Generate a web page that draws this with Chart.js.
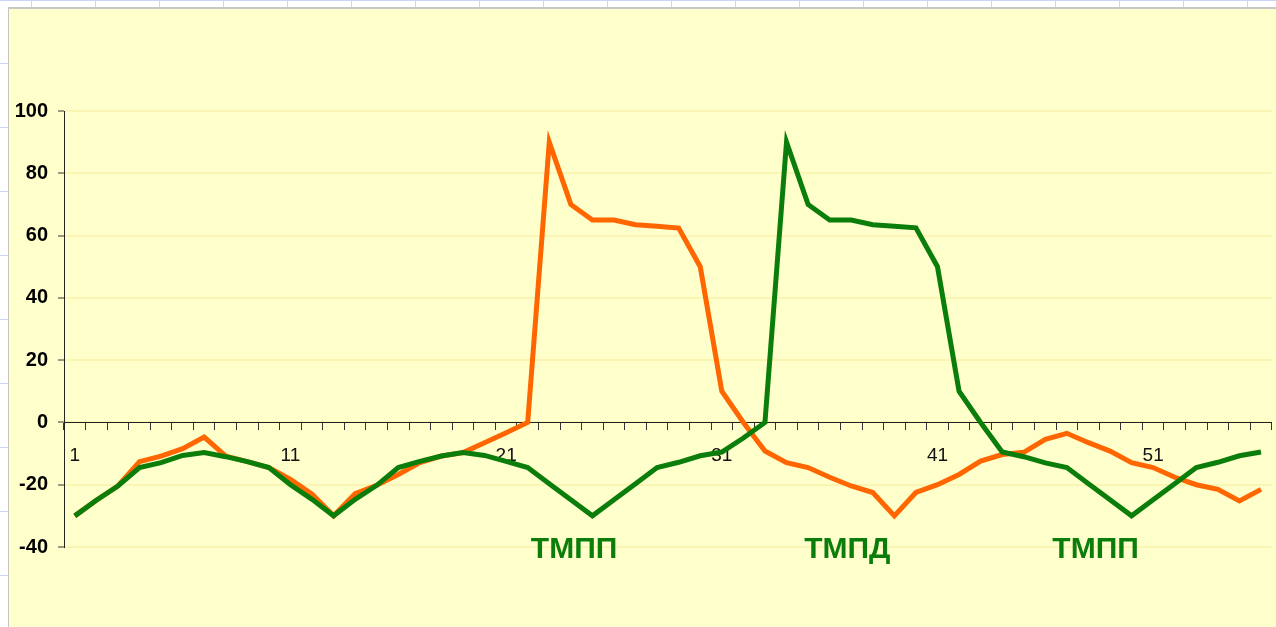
<!DOCTYPE html>
<html><head><meta charset="utf-8">
<script src="https://cdn.jsdelivr.net/npm/chart.js@4/dist/chart.umd.min.js"></script>
<style>
html,body{margin:0;padding:0;width:1276px;height:627px;overflow:hidden;}
body{background-color:#fff;
 background-image:linear-gradient(to right,#cad7fa 1px,transparent 1px),linear-gradient(to bottom,#cad7fa 1px,transparent 1px);
 background-size:64px 64px;background-position:31px 63px;}
#top{position:absolute;left:0;top:0;width:1276px;height:1px;background:#cad7fa;}
#wrap{position:absolute;left:8px;top:7px;width:1268px;height:620px;background:#FFFFCC;border-left:1px solid #c4c4c4;border-top:2px solid #c8c8c8;}
canvas{display:block;}
</style></head>
<body>
<div id="top"></div>
<div id="wrap"><canvas id="c" width="1267" height="618"></canvas></div>
<script>
const categories = Array.from({length:56},(_, i)=>String(i+1));
const shownTickLabels = ['1','11','21','31','41','51'];
const orangeValues = [-30,-25,-20.4,-12.6,-10.8,-8.4,-4.7,-10.8,-12.6,-14.5,
  -18.3,-23,-30,-22.9,-20.2,-16.7,-12.9,-10.8,-9.7,-6.5,
  -3.3,0,90,70,65,65,63.5,63,62.4,50,
  10,0,-9.2,-12.9,-14.5,-17.6,-20.4,-22.5,-30,-22.5,
  -20,-16.7,-12.4,-10.3,-9.6,-5.4,-3.5,-6.5,-9.2,-12.9,
  -14.5,-17.6,-20,-21.5,-25.2,-21.5];
const greenValues = [-30,-25,-20.4,-14.5,-12.9,-10.6,-9.7,-11,-12.6,-14.5,
  -20,-24.7,-30,-24.7,-20.2,-14.5,-12.5,-10.8,-9.7,-10.6,
  -12.5,-14.5,-19.7,-24.8,-30,-24.8,-19.7,-14.5,-12.8,-10.7,
  -9.5,-5,0,90,70,65,65,63.5,63,62.5,
  50,10,0,-9.5,-11,-13,-14.5,-19.7,-24.8,-30,
  -24.8,-19.7,-14.5,-12.8,-10.7,-9.5];
const yTicks = [-40,-20,0,20,40,60,80,100];
const noteTexts = ['ТМПП','ТМПД','ТМПП'];
const noteCats = [23.15, 35.82, 47.33];
const noteVals = [-41, -41, -41];

const GREEN = '#0b7d0b', ORANGE = '#ff6600';

const notesPlugin = {
  id:'notes',
  afterDatasetsDraw(chart){
    const ctx = chart.ctx, xs = chart.scales.x, ys = chart.scales.y;
    ctx.save();
    ctx.font = 'bold 30px "Liberation Sans", Arial, sans-serif';
    ctx.fillStyle = GREEN;
    ctx.textAlign = 'center';
    ctx.textBaseline = 'middle';
    noteTexts.forEach((t,i)=>{
      ctx.fillText(t, xs.getPixelForValue(noteCats[i]), ys.getPixelForValue(noteVals[i]));
    });
    ctx.restore();
  }
};

new Chart(document.getElementById('c'), {
  type:'line',
  data:{
    labels:categories,
    datasets:[
      {data:greenValues, borderColor:GREEN, backgroundColor:GREEN, borderWidth:5, pointRadius:0, tension:0, fill:false},
      {data:orangeValues, borderColor:ORANGE, backgroundColor:ORANGE, borderWidth:5, pointRadius:0, tension:0, fill:false}
    ]
  },
  options:{
    responsive:false, animation:false, devicePixelRatio:1,
    layout:{padding:{top:102,bottom:80,left:0,right:0}},
    plugins:{legend:{display:false},tooltip:{enabled:false}},
    scales:{
      x:{type:'category', position:{y:0}, offset:true,
        grid:{offset:true, drawOnChartArea:false, drawTicks:true, tickLength:7, tickColor:'#333', tickWidth:1},
        border:{display:true, color:'#222', width:1},
        ticks:{autoSkip:false, maxRotation:0, minRotation:0, padding:15, color:'#111',
          font:{family:'"Liberation Sans", Arial, sans-serif', size:19},
          callback:function(v,i){ const l = categories[i]; return shownTickLabels.includes(l) ? l : ''; }}
      },
      y:{min:-40, max:100,
        afterBuildTicks(s){ s.ticks = yTicks.map(v=>({value:v})); },
        afterFit(s){ s.width = 55; },
        grid:{color:'#fbf5b4', lineWidth:2, tickLength:6, tickColor:'#333', tickWidth:1},
        border:{display:true, color:'#222', width:1},
        ticks:{padding:10, color:'#000', font:{family:'"Liberation Sans", Arial, sans-serif', size:20, weight:'bold'}}
      }
    }
  },
  plugins:[notesPlugin]
});
</script>
</body></html>
